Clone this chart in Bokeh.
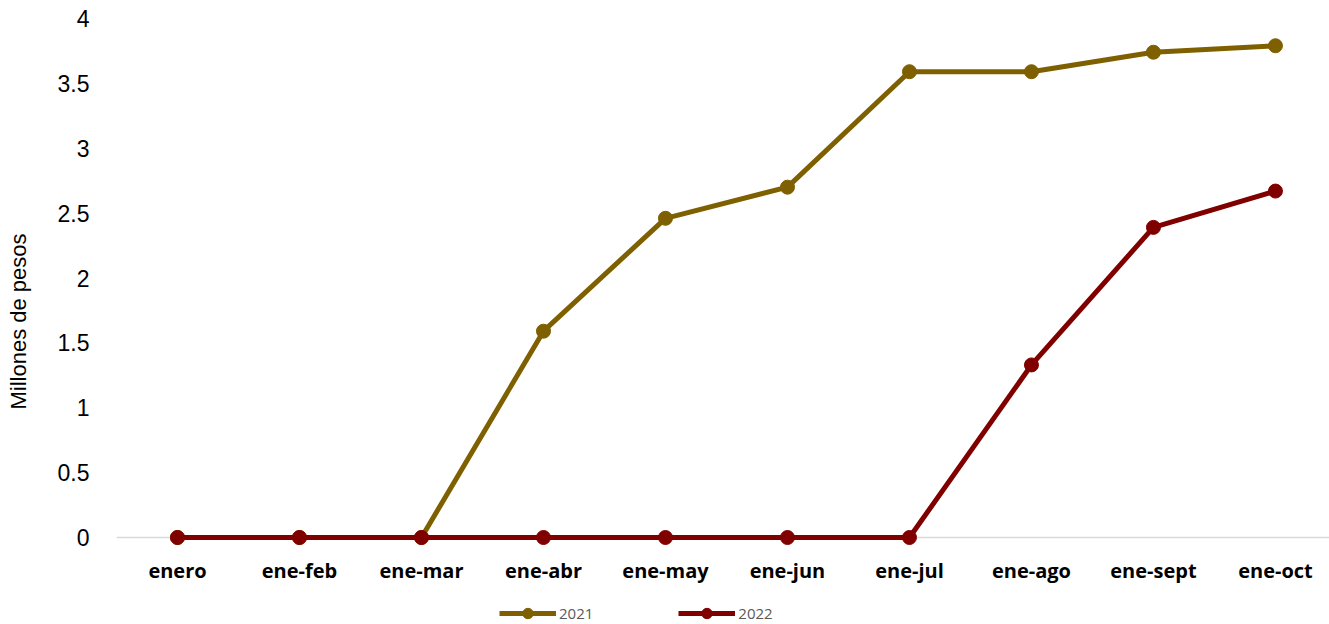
from bokeh.plotting import figure
from bokeh.models import Range1d, FixedTicker, Legend, LegendItem
from bokeh.embed import file_html
from bokeh.resources import INLINE

categories = ["enero", "ene-feb", "ene-mar", "ene-abr", "ene-may", "ene-jun",
              "ene-jul", "ene-ago", "ene-sept", "ene-oct"]
values_2021 = [0, 0, 0, 1.59, 2.46, 2.70, 3.59, 3.59, 3.74, 3.79]
values_2022 = [0, 0, 0, 0, 0, 0, 0, 1.33, 2.39, 2.67]
y_ticks = [0, 0.5, 1, 1.5, 2, 2.5, 3, 3.5, 4]

c2021 = "#7F6000"
c2022 = "#800000"

xs = list(range(len(categories)))

p = figure(width=1329, height=624, output_backend="svg", toolbar_location=None,
           x_range=Range1d(-0.5, 9.443), y_range=Range1d(-0.6705, 4),
           min_border_left=116, min_border_top=18, min_border_right=0,
           min_border_bottom=0)
p.outline_line_color = None
p.xgrid.visible = False
p.ygrid.visible = False

r1l = p.line(xs, values_2021, line_color=c2021, line_width=5)
r1c = p.scatter(xs, values_2021, size=14, color=c2021)
r2l = p.line(xs, values_2022, line_color=c2022, line_width=5)
r2c = p.scatter(xs, values_2022, size=14, color=c2022)

p.xaxis.fixed_location = 0
p.xaxis.level = "underlay"
p.xaxis.ticker = FixedTicker(ticks=xs)
p.xaxis.major_label_overrides = {i: c for i, c in enumerate(categories)}
p.xaxis.major_tick_line_color = None
p.xaxis.minor_tick_line_color = None
p.xaxis.axis_line_color = "#D9D9D9"
p.xaxis.axis_line_width = 1.5
p.xaxis.major_label_text_font = "Open Sans"
p.xaxis.major_label_text_font_style = "bold"
p.xaxis.major_label_text_font_size = "20px"
p.xaxis.major_label_text_color = "#000000"
p.xaxis.major_label_standoff = 13

p.yaxis.ticker = FixedTicker(ticks=y_ticks)
p.yaxis.major_label_overrides = {t: ("%g" % t) for t in y_ticks}
p.yaxis.axis_line_color = None
p.yaxis.major_tick_line_color = None
p.yaxis.minor_tick_line_color = None
p.yaxis.major_label_text_font = "Liberation Sans"
p.yaxis.major_label_text_font_size = "23px"
p.yaxis.major_label_text_color = "#000000"
p.yaxis.major_label_standoff = 21
p.yaxis.axis_label = "Millones de pesos"
p.yaxis.axis_label_text_font = "Liberation Sans"
p.yaxis.axis_label_text_font_style = "normal"
p.yaxis.axis_label_text_font_size = "22px"
p.yaxis.axis_label_text_color = "#000000"
p.yaxis.axis_label_standoff = 24

legend = Legend(items=[LegendItem(label="2021", renderers=[r1l, r1c]),
                       LegendItem(label="2022", renderers=[r2l, r2c])],
                orientation="horizontal", location=(383, -2),
                label_text_font="Open Sans", label_text_font_size="15px",
                label_text_color="#595959", glyph_width=57, glyph_height=26,
                spacing=85, label_standoff=3, border_line_color=None,
                background_fill_alpha=0, margin=0, padding=0)
p.add_layout(legend, "center")

open("out.html", "w").write(file_html(p, INLINE))
